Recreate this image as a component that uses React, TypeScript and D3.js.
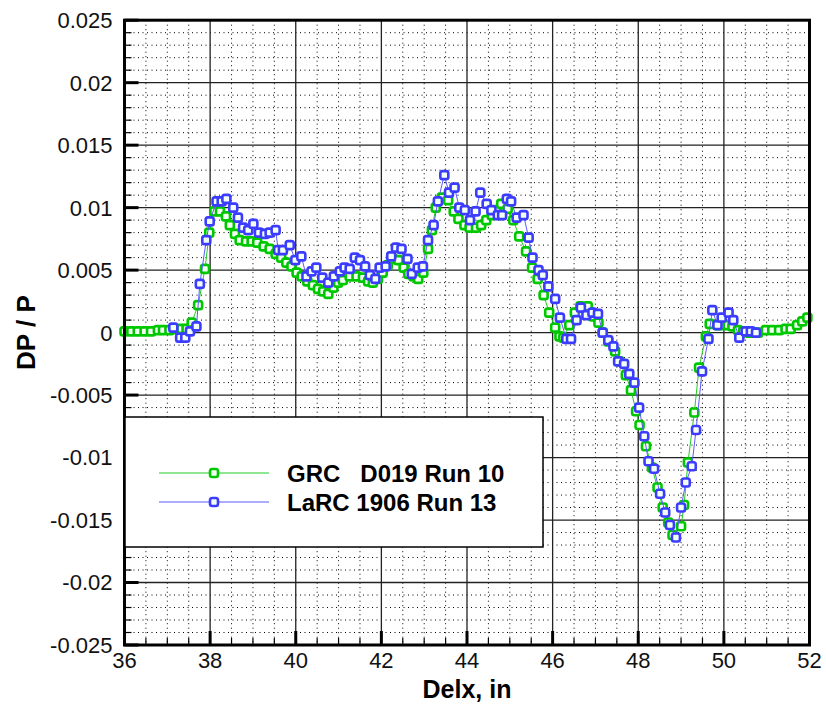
import React from 'react';
import * as d3 from 'd3';

// GRC D019 Run 10
const grcX = [36.0, 36.16, 36.31, 36.47, 36.62, 36.78, 36.9, 37.05, 37.18, 37.33, 37.45, 37.57, 37.72, 37.88, 37.98, 38.1, 38.23, 38.37, 38.46, 38.58, 38.69, 38.84, 38.97, 39.1, 39.25, 39.39, 39.53, 39.66, 39.78, 39.9, 40.02, 40.14, 40.27, 40.4, 40.52, 40.64, 40.76, 40.88, 40.99, 41.1, 41.26, 41.42, 41.57, 41.69, 41.8, 41.92, 42.03, 42.15, 42.27, 42.4, 42.52, 42.63, 42.75, 42.86, 42.98, 43.09, 43.18, 43.27, 43.41, 43.56, 43.69, 43.8, 43.94, 44.06, 44.21, 44.33, 44.45, 44.58, 44.69, 44.8, 44.95, 45.08, 45.22, 45.38, 45.52, 45.65, 45.79, 45.92, 46.06, 46.16, 46.25, 46.39, 46.52, 46.65, 46.82, 46.95, 47.07, 47.17, 47.3, 47.46, 47.56, 47.71, 47.83, 47.95, 48.03, 48.18, 48.32, 48.45, 48.57, 48.7, 48.8, 49.0, 49.07, 49.16, 49.31, 49.42, 49.58, 49.67, 49.85, 49.97, 50.09, 50.2, 50.33, 50.45, 50.57, 50.69, 50.8, 50.98, 51.13, 51.29, 51.44, 51.56, 51.71, 51.83, 51.95];
const grcY = [0.0001, 0.0001, 0.0001, 0.0001, 0.0001, 0.0002, 0.0002, 0.0002, 0.0003, 0.0003, 0.0003, 0.0008, 0.0022, 0.0051, 0.008, 0.0097, 0.0097, 0.0093, 0.0086, 0.0079, 0.0074, 0.0073, 0.0073, 0.0072, 0.0069, 0.0067, 0.0063, 0.006, 0.0056, 0.0053, 0.0048, 0.0045, 0.0041, 0.0038, 0.0035, 0.0033, 0.0031, 0.0036, 0.004, 0.0042, 0.0045, 0.0045, 0.0044, 0.0041, 0.004, 0.0043, 0.0048, 0.0054, 0.0059, 0.0058, 0.0052, 0.0047, 0.0045, 0.0043, 0.0048, 0.0067, 0.0082, 0.01, 0.0108, 0.0106, 0.0097, 0.0091, 0.0086, 0.0084, 0.0084, 0.0086, 0.009, 0.0094, 0.0098, 0.0103, 0.0099, 0.009, 0.0077, 0.0065, 0.0052, 0.0043, 0.003, 0.0016, 0.0004, -0.0003, -0.0004, 0.0006, 0.0016, 0.0021, 0.0021, 0.0013, 0.0008, 0.0, -0.0007, -0.0015, -0.0023, -0.0034, -0.0046, -0.0063, -0.0074, -0.0091, -0.0108, -0.0124, -0.014, -0.0152, -0.0162, -0.0155, -0.0138, -0.0104, -0.0064, -0.0028, -0.0003, 0.0007, 0.0006, 0.0006, 0.0006, 0.0005, 0.0002, 0.0001, 0.0, 0.0, 0.0, 0.0002, 0.0002, 0.0002, 0.0003, 0.0003, 0.0006, 0.0009, 0.0012];

// LaRC 1906 Run 13
const larcX = [37.14, 37.3, 37.42, 37.53, 37.68, 37.76, 37.91, 37.99, 38.15, 38.27, 38.38, 38.54, 38.65, 38.77, 38.89, 39.01, 39.14, 39.28, 39.39, 39.53, 39.59, 39.7, 39.86, 39.99, 40.13, 40.25, 40.37, 40.48, 40.62, 40.76, 40.89, 41.03, 41.14, 41.26, 41.38, 41.5, 41.62, 41.73, 41.86, 41.96, 42.1, 42.23, 42.34, 42.47, 42.61, 42.71, 42.85, 42.97, 43.09, 43.22, 43.32, 43.47, 43.58, 43.71, 43.82, 43.95, 44.07, 44.2, 44.31, 44.46, 44.57, 44.72, 44.82, 44.93, 45.03, 45.16, 45.32, 45.44, 45.53, 45.67, 45.77, 45.9, 46.06, 46.17, 46.32, 46.43, 46.56, 46.66, 46.79, 46.93, 47.06, 47.17, 47.3, 47.42, 47.53, 47.67, 47.79, 47.91, 48.02, 48.14, 48.24, 48.37, 48.51, 48.63, 48.74, 48.88, 49.0, 49.11, 49.25, 49.35, 49.49, 49.64, 49.73, 49.85, 49.95, 50.11, 50.22, 50.36, 50.51, 50.63, 50.75];
const larcY = [0.0004, -0.0004, -0.0004, 0.0001, 0.0005, 0.0039, 0.0074, 0.0089, 0.0105, 0.0105, 0.0107, 0.01, 0.0092, 0.0084, 0.0082, 0.0087, 0.008, 0.0079, 0.008, 0.0082, 0.0066, 0.0066, 0.007, 0.0058, 0.0061, 0.0045, 0.0049, 0.0052, 0.0044, 0.004, 0.0045, 0.0049, 0.0052, 0.0051, 0.006, 0.0058, 0.0053, 0.0046, 0.0043, 0.0052, 0.0053, 0.0061, 0.0068, 0.0067, 0.0059, 0.0047, 0.0052, 0.0053, 0.0074, 0.0086, 0.0105, 0.0126, 0.0112, 0.0116, 0.01, 0.0098, 0.009, 0.0097, 0.0112, 0.0103, 0.0098, 0.0094, 0.0094, 0.0107, 0.0105, 0.0092, 0.0094, 0.0076, 0.006, 0.005, 0.0046, 0.0037, 0.0027, 0.0012, -0.0005, -0.0005, 0.001, 0.002, 0.0014, 0.0016, 0.0015, 0.0, -0.0006, -0.0011, -0.0023, -0.0025, -0.0033, -0.004, -0.006, -0.0083, -0.0103, -0.0109, -0.0129, -0.0144, -0.0154, -0.0164, -0.014, -0.012, -0.0107, -0.0078, -0.0031, -0.0005, 0.0018, 0.0006, 0.0012, 0.0016, 0.001, -0.0004, 0.0001, 0.0001, 0.0];

const xTicks = [36, 38, 40, 42, 44, 46, 48, 50, 52];
const yTicks = [0.025, 0.02, 0.015, 0.01, 0.005, 0, -0.005, -0.01, -0.015, -0.02, -0.025];
const yTickLabels = ['0.025', '0.02', '0.015', '0.01', '0.005', '0', '-0.005', '-0.01', '-0.015', '-0.02', '-0.025'];
const seriesNames = ['GRC   D019 Run 10', 'LaRC 1906 Run 13'];
const seriesColors = ['#00c800', '#3c3cff'];
const lineColors = ['#22cc22', '#5a5aff'];

const W = 826, H = 704;
const L = 124.5, R = 809.5, T = 20.2, B = 645;
const font = 'Liberation Sans, Arial, Helvetica, sans-serif';

export default function App() {
  const x = d3.scaleLinear().domain([36, 52]).range([L, R]);
  const y = d3.scaleLinear().domain([-0.025, 0.025]).range([B, T]);

  const xMinor = d3.range(36, 52.001, 0.5).filter(v => Math.abs(v % 2) > 1e-6);
  const yMinor = d3.range(-25, 26, 1).filter(v => v % 5 !== 0).map(v => v / 1000);

  const line = d3.line<[number, number]>().x(d => x(d[0])).y(d => y(d[1]));
  const series = [
    grcX.map((v, i) => [v, grcY[i]] as [number, number]),
    larcX.map((v, i) => [v, larcY[i]] as [number, number]),
  ];

  // hollow rounded square, like the plotting package's marker
  const marker = (cx: number, cy: number, color: string, key: string | number) => (
    <rect key={key} x={cx - 4} y={cy - 4} width={8} height={8} rx={2.2} fill="#f4fff4" stroke={color} strokeWidth={2.6} />
  );

  return (
    <svg width={W} height={H} style={{ position: 'absolute', left: 0, top: 0, background: '#fff' }} fontFamily={font}>
      <rect x={0} y={0} width={W} height={H} fill="#fff" />
      {/* minor grid */}
      {xMinor.map(v => (
        <line key={'xm' + v} x1={x(v)} x2={x(v)} y1={T} y2={B} stroke="#000" strokeWidth={1} strokeDasharray="1,3.5" />
      ))}
      {yMinor.map(v => (
        <line key={'ym' + v} x1={L} x2={R} y1={y(v)} y2={y(v)} stroke="#000" strokeWidth={1} strokeDasharray="1,3.5" />
      ))}
      {/* major grid */}
      {xTicks.map(v => (
        <line key={'xg' + v} x1={x(v)} x2={x(v)} y1={T} y2={B} stroke="#222" strokeWidth={1.3} />
      ))}
      {yTicks.map(v => (
        <line key={'yg' + v} x1={L} x2={R} y1={y(v)} y2={y(v)} stroke="#222" strokeWidth={1.3} />
      ))}
      {/* ticks */}
      {yMinor.map(v => (
        <line key={'ytm' + v} x1={L} x2={L + 7} y1={y(v)} y2={y(v)} stroke="#000" strokeWidth={1.2} />
      ))}
      {yTicks.map(v => (
        <line key={'ytM' + v} x1={L} x2={L + 14} y1={y(v)} y2={y(v)} stroke="#000" strokeWidth={3} />
      ))}
      {xMinor.map(v => (
        <line key={'xtm' + v} x1={x(v)} x2={x(v)} y1={B} y2={B - 7} stroke="#000" strokeWidth={1.2} />
      ))}
      {xTicks.map(v => (
        <line key={'xtM' + v} x1={x(v)} x2={x(v)} y1={B} y2={B - 14} stroke="#000" strokeWidth={3} />
      ))}
      {/* series */}
      {series.map((s, i) => (
        <g key={'s' + i}>
          <path d={line(s) || ''} fill="none" stroke={lineColors[i]} strokeWidth={1} />
          {s.map((d, j) => marker(x(d[0]), y(d[1]), seriesColors[i], j))}
        </g>
      ))}
      {/* frame */}
      <rect x={L} y={T} width={R - L} height={B - T} fill="none" stroke="#000" strokeWidth={3} />
      {/* tick labels */}
      {yTicks.map((v, i) => (
        <text key={'yl' + v} x={L - 12} y={y(v)} dy="0.36em" textAnchor="end" fontSize={22} fill="#111">{yTickLabels[i]}</text>
      ))}
      {xTicks.map(v => (
        <text key={'xl' + v} x={x(v)} y={B + 23} textAnchor="middle" fontSize={22} fill="#111">{v}</text>
      ))}
      <text x={(L + R) / 2} y={698} textAnchor="middle" fontSize={25} fontWeight="bold">Delx, in</text>
      <text transform={`translate(35,${(T + B) / 2}) rotate(-90)`} textAnchor="middle" fontSize={26} fontWeight="bold">DP / P</text>
      {/* legend */}
      <g>
        <rect x={125} y={417} width={418} height={130} fill="#fff" stroke="#000" strokeWidth={1.5} />
        {seriesNames.map((n, i) => {
          const ly = 473 + i * 29;
          return (
            <g key={'lg' + i}>
              <line x1={159} x2={269} y1={ly} y2={ly} stroke={lineColors[i]} strokeWidth={1} />
              {marker(214, ly, seriesColors[i], 'lm' + i)}
              <text x={287} y={ly} dy="0.36em" fontSize={24} fontWeight="bold" style={{ whiteSpace: 'pre' }}>{n}</text>
            </g>
          );
        })}
      </g>
    </svg>
  );
}
